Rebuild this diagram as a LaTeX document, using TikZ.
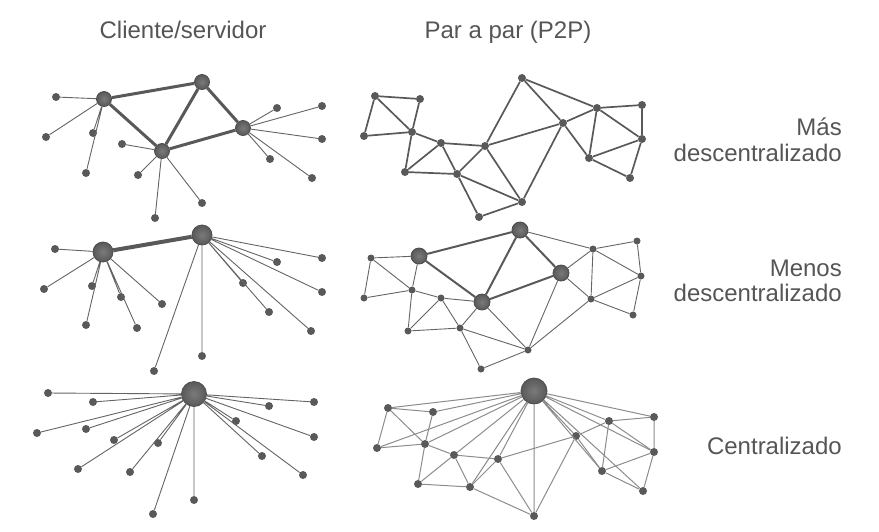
\documentclass[tikz,border=0pt]{standalone}
\usepackage{fontspec}
\setmainfont{Liberation Sans}
\usetikzlibrary{positioning}
\definecolor{dotgray}{HTML}{595959}
\definecolor{linegray}{HTML}{646464}
\definecolor{lightline}{HTML}{8C8C8C}
\definecolor{labelgray}{HTML}{555555}

\begin{document}
\begin{tikzpicture}[
  x=1pt, y=-1pt,
  every node/.style={inner sep=0pt},
  lbl/.style={font=\fontsize{24}{26}\selectfont, text=labelgray},
  peer/.style={circle, fill=dotgray, minimum size=8pt},
  smallpeer/.style={circle, fill=dotgray, minimum size=7pt},
  hub/.style={circle, draw=dotgray!85!black, line width=0.8pt, shading=radial, inner color=dotgray!80!white, outer color=dotgray, minimum size=15pt},
  bighub/.style={hub, minimum size=20pt},
  megahub/.style={hub, minimum size=26pt},
  link/.style={draw=linegray, line width=0.9pt},
  mesh/.style={draw=dotgray, line width=1.7pt},
  faint/.style={draw=lightline, line width=1pt},
  trunk/.style={draw=dotgray, line width=3pt},
]
\useasboundingbox (0,0) rectangle (879,531);

% Titles
\node[lbl, anchor=base] (tcs) at (183,38) {Cliente/servidor};
\node[lbl, anchor=base] (tpp) at (508,38) {Par a par (P2P)};

% Row labels
\node[lbl, anchor=base east] (mas) at (842,135) {Más};
\node[lbl, anchor=base east] (desc1) at (842,161) {descentralizado};
\node[lbl, anchor=base east] (menos) at (842,276) {Menos};
\node[lbl, anchor=base east] (desc2) at (842,301) {descentralizado};
\node[lbl, anchor=base east] (centr) at (842,454) {Centralizado};

% ---- Cliente/servidor, mas descentralizado
\node[hub] (s1a) at (104,99) {};
\node[hub] (s1b) at (202,82) {};
\node[hub] (s1c) at (243,128) {};
\node[hub] (s1d) at (162,151) {};
\node[peer] (c1a) at (56,97) {};
\node[peer] (c1b) at (46,137) {};
\node[peer] (c1c) at (93,133) {};
\node[peer] (c1d) at (86,173) {};
\node[peer] (c1e) at (122,144) {};
\node[peer] (c1f) at (138,175) {};
\node[peer] (c1g) at (155,218) {};
\node[peer] (c1h) at (202,203) {};
\node[peer] (c1i) at (277,108) {};
\node[peer] (c1j) at (322,106) {};
\node[peer] (c1k) at (322,139) {};
\node[peer] (c1l) at (270,159) {};
\node[peer] (c1m) at (312,178) {};

\draw[trunk] (s1a) -- (s1b) (s1a) -- (s1d) (s1b) -- (s1d) (s1b) -- (s1c) (s1d) -- (s1c);
\draw[link] (s1a) -- (c1a) (s1a) -- (c1b) (s1a) -- (c1c) (s1a) -- (c1d)
  (s1d) -- (c1e) (s1d) -- (c1f) (s1d) -- (c1g) (s1d) -- (c1h)
  (s1c) -- (c1i) (s1c) -- (c1j) (s1c) -- (c1k) (s1c) -- (c1l) (s1c) -- (c1m);

% ---- P2P, mas descentralizado
\node[peer] (p1a) at (375,96) {};
\node[peer] (p1b) at (420,99) {};
\node[peer] (p1c) at (364,136) {};
\node[peer] (p1d) at (412,132) {};
\node[peer] (p1e) at (441,143) {};
\node[peer] (p1f) at (405,172) {};
\node[peer] (p1g) at (457,174) {};
\node[peer] (p1h) at (485,146) {};
\node[peer] (p1i) at (479,217) {};
\node[peer] (p1j) at (522,202) {};
\node[peer] (p1k) at (522,78) {};
\node[peer] (p1l) at (563,123) {};
\node[peer] (p1m) at (597,108) {};
\node[peer] (p1n) at (642,105) {};
\node[peer] (p1o) at (642,139) {};
\node[peer] (p1p) at (589,158) {};
\node[peer] (p1q) at (630,178) {};

\draw[mesh] (p1a) -- (p1b) (p1a) -- (p1c) (p1a) -- (p1d) (p1b) -- (p1d) (p1c) -- (p1d)
  (p1d) -- (p1e) (p1d) -- (p1f) (p1e) -- (p1f) (p1e) -- (p1g) (p1e) -- (p1h)
  (p1f) -- (p1g) (p1g) -- (p1h) (p1g) -- (p1i) (p1g) -- (p1j) (p1h) -- (p1j)
  (p1i) -- (p1j) (p1h) -- (p1k) (p1h) -- (p1l) (p1k) -- (p1l) (p1k) -- (p1m)
  (p1l) -- (p1m) (p1l) -- (p1j) (p1l) -- (p1p) (p1m) -- (p1n) (p1m) -- (p1p)
  (p1m) -- (p1o) (p1n) -- (p1o) (p1o) -- (p1p) (p1o) -- (p1q) (p1p) -- (p1q);

% ---- Cliente/servidor, menos descentralizado
\node[bighub] (s2a) at (103,252) {};
\node[bighub] (s2b) at (202,235) {};
\node[peer] (c2a) at (55,249) {};
\node[peer] (c2b) at (44,289) {};
\node[peer] (c2c) at (92,286) {};
\node[peer] (c2d) at (86,325) {};
\node[peer] (c2e) at (121,297) {};
\node[peer] (c2f) at (137,328) {};
\node[peer] (c2g) at (162,304) {};
\node[peer] (c2h) at (277,262) {};
\node[peer] (c2i) at (322,258) {};
\node[peer] (c2j) at (322,292) {};
\node[peer] (c2k) at (243,283) {};
\node[peer] (c2l) at (269,312) {};
\node[peer] (c2m) at (311,331) {};
\node[peer] (c2n) at (202,356) {};
\node[peer] (c2o) at (154,371) {};

\draw[trunk, line width=4pt] (s2a) -- (s2b);
\draw[link] (s2a) -- (c2a) (s2a) -- (c2b) (s2a) -- (c2c) (s2a) -- (c2d)
  (s2a) -- (c2e) (s2a) -- (c2f) (s2a) -- (c2g)
  (s2b) -- (c2h) (s2b) -- (c2i) (s2b) -- (c2j) (s2b) -- (c2k)
  (s2b) -- (c2l) (s2b) -- (c2m) (s2b) -- (c2n) (s2b) -- (c2o);

% ---- P2P, menos descentralizado
\node[hub, minimum size=16pt] (h2a) at (419,256) {};
\node[hub, minimum size=16pt] (h2b) at (520,230) {};
\node[hub, minimum size=16pt] (h2c) at (561,273) {};
\node[hub, minimum size=16pt] (h2d) at (482,302) {};
\node[smallpeer] (p2a) at (371,258) {};
\node[smallpeer] (p2c) at (364,298) {};
\node[smallpeer] (p2d) at (412,290) {};
\node[smallpeer] (p2e) at (441,298) {};
\node[smallpeer] (p2f) at (408,331) {};
\node[smallpeer] (p2g) at (460,328) {};
\node[smallpeer] (p2i) at (481,369) {};
\node[smallpeer] (p2j) at (528,350) {};
\node[smallpeer] (p2m) at (593,249) {};
\node[smallpeer] (p2n) at (637,241) {};
\node[smallpeer] (p2o) at (641,276) {};
\node[smallpeer] (p2p) at (591,299) {};
\node[smallpeer] (p2q) at (633,315) {};

\draw[trunk, line width=2pt] (h2a) -- (h2b) (h2a) -- (h2d) (h2b) -- (h2d) (h2b) -- (h2c) (h2d) -- (h2c);
\draw[link] (p2a) -- (h2a) (p2a) -- (p2c) (p2a) -- (p2d) (h2a) -- (p2d) (p2c) -- (p2d)
  (p2d) -- (p2e) (p2d) -- (p2f) (p2e) -- (p2f) (p2e) -- (p2g) (p2e) -- (h2d)
  (p2f) -- (p2g) (p2g) -- (h2d) (p2g) -- (p2i) (p2g) -- (p2j) (h2d) -- (p2j)
  (h2c) -- (p2j) (p2i) -- (p2j) (h2b) -- (p2m) (h2c) -- (p2m) (h2c) -- (p2p)
  (p2m) -- (p2n) (p2m) -- (p2p) (p2m) -- (p2o) (p2n) -- (p2o) (p2o) -- (p2p)
  (p2o) -- (p2q) (p2p) -- (p2q) (p2j) -- (p2p);

% ---- Cliente/servidor, centralizado
\node[megahub, minimum size=25pt] (s3) at (194,394) {};
\node[peer] (c3a) at (48,393) {};
\node[peer] (c3b) at (93,402) {};
\node[peer] (c3c) at (37,433) {};
\node[peer] (c3d) at (86,429) {};
\node[peer] (c3e) at (114,440) {};
\node[peer] (c3f) at (158,443) {};
\node[peer] (c3g) at (78,469) {};
\node[peer] (c3h) at (130,472) {};
\node[peer] (c3i) at (153,514) {};
\node[peer] (c3j) at (194,500) {};
\node[peer] (c3k) at (269,406) {};
\node[peer] (c3l) at (314,402) {};
\node[peer] (c3m) at (236,421) {};
\node[peer] (c3n) at (314,437) {};
\node[peer] (c3o) at (262,456) {};
\node[peer] (c3p) at (303,475) {};

\draw[link] (s3) -- (c3a) (s3) -- (c3b) (s3) -- (c3c) (s3) -- (c3d)
  (s3) -- (c3e) (s3) -- (c3f) (s3) -- (c3g) (s3) -- (c3h)
  (s3) -- (c3i) (s3) -- (c3j) (s3) -- (c3k) (s3) -- (c3l)
  (s3) -- (c3m) (s3) -- (c3n) (s3) -- (c3o) (s3) -- (c3p);

% ---- P2P, centralizado
\node[megahub] (h3) at (534,391) {};
\node[peer] (p3a) at (388,408) {};
\node[peer] (p3b) at (433,412) {};
\node[peer] (p3c) at (377,448) {};
\node[peer] (p3d) at (425,444) {};
\node[peer] (p3e) at (454,455) {};
\node[peer] (p3f) at (418,484) {};
\node[peer] (p3g) at (470,487) {};
\node[peer] (p3h) at (498,459) {};
\node[peer] (p3j) at (534,516) {};
\node[peer] (p3l) at (576,436) {};
\node[peer] (p3m) at (609,421) {};
\node[peer] (p3n) at (654,417) {};
\node[peer] (p3o) at (654,452) {};
\node[peer] (p3p) at (602,471) {};
\node[peer] (p3q) at (643,491) {};

\draw[faint] (h3) -- (p3a) (h3) -- (p3b) (h3) -- (p3c) (h3) -- (p3d) (h3) -- (p3e)
  (h3) -- (p3g) (h3) -- (p3h) (h3) -- (p3j) (h3) -- (p3l) (h3) -- (p3m)
  (h3) -- (p3n) (h3) -- (p3o) (h3) -- (p3p) (h3) -- (p3q);
\draw[faint] (p3a) -- (p3b) (p3a) -- (p3c) (p3a) -- (p3d) (p3b) -- (p3d) (p3c) -- (p3d)
  (p3d) -- (p3e) (p3d) -- (p3f) (p3e) -- (p3f) (p3e) -- (p3g) (p3e) -- (p3h)
  (p3f) -- (p3g) (p3g) -- (p3h) (p3g) -- (p3j) (p3h) -- (p3j) (p3h) -- (p3l)
  (p3l) -- (p3m) (p3l) -- (p3j) (p3l) -- (p3p) (p3m) -- (p3n) (p3m) -- (p3p)
  (p3m) -- (p3o) (p3n) -- (p3o) (p3o) -- (p3p) (p3o) -- (p3q) (p3p) -- (p3q);
\end{tikzpicture}
\end{document}
